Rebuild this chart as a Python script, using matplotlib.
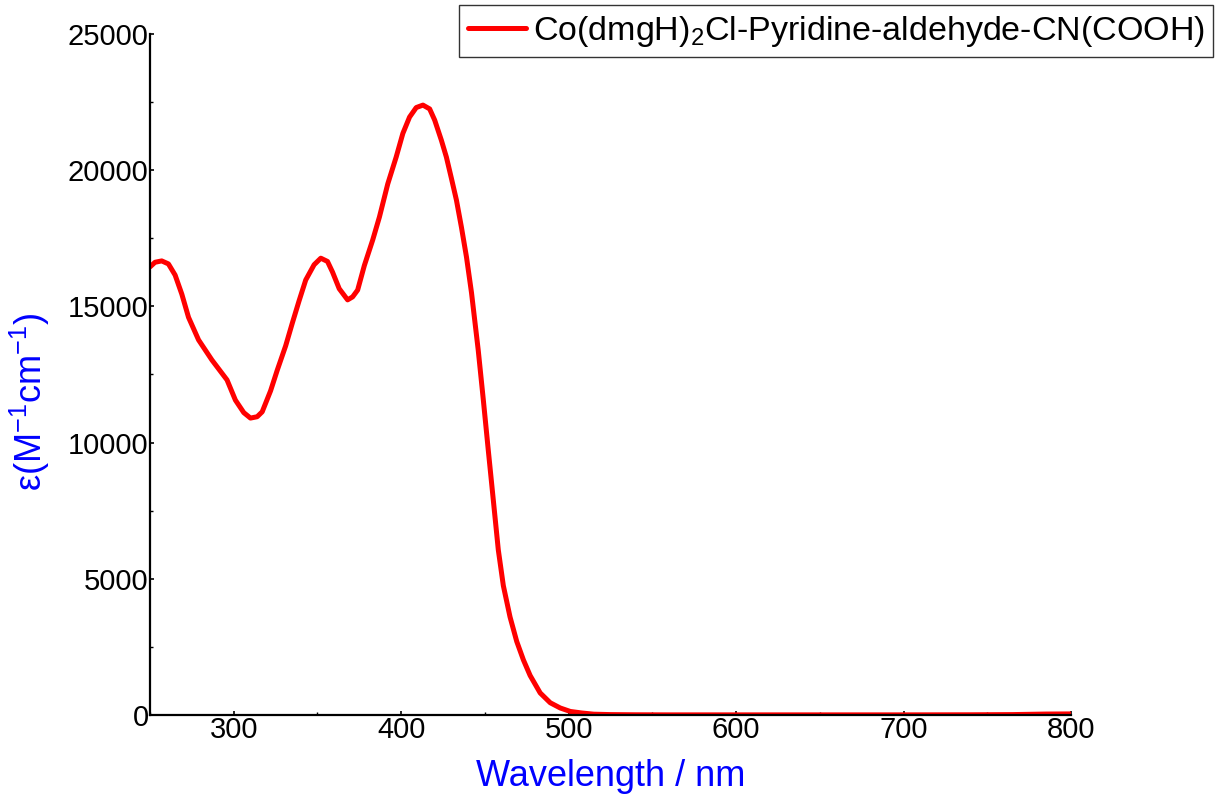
import matplotlib
matplotlib.use("Agg")
import matplotlib.pyplot as plt
from matplotlib.ticker import MultipleLocator

plt.rcParams['font.family'] = ['Liberation Sans', 'DejaVu Sans']
plt.rcParams['mathtext.fontset'] = 'custom'
plt.rcParams['mathtext.rm'] = 'Liberation Sans'
plt.rcParams['mathtext.it'] = 'Liberation Sans'
plt.rcParams['mathtext.default'] = 'regular'

# wavelength (nm) and molar absorptivity (M^-1 cm^-1)
wavelength = [250, 253, 257, 261, 265, 269, 273, 279, 287, 296, 301, 306, 310,
              314, 317, 322, 326, 331, 335, 339, 343, 348, 352, 356, 359, 363,
              368, 371, 374, 378, 383, 387, 392, 397, 401, 405, 409, 413, 417,
              420, 424, 427, 430, 433, 436, 439, 442, 446, 449, 452, 455, 458,
              461, 465, 469, 473, 477, 483, 489, 495, 501, 508, 515, 525, 540,
              560, 600, 650, 700, 740, 765, 775, 785, 800]
epsilon = [16450, 16620, 16670, 16560, 16150, 15450, 14600, 13770, 13030, 12300,
           11560, 11100, 10900, 10950, 11130, 11900, 12660, 13550, 14390, 15200,
           15970, 16530, 16770, 16650, 16260, 15650, 15240, 15350, 15600, 16500,
           17440, 18280, 19500, 20480, 21350, 21950, 22300, 22390, 22250, 21840,
           21100, 20480, 19700, 18900, 17900, 16810, 15500, 13400, 11600, 9730,
           7900, 6060, 4750, 3600, 2700, 2020, 1450, 810, 450, 257, 130, 73,
           30, 15, 8, 5, 5, 5, 5, 8, 15, 25, 35, 40]

legend_label = r'Co(dmgH)$_2$Cl-Pyridine-aldehyde-CN(COOH)'

fig = plt.figure(figsize=(12.27, 8.02), dpi=100)
ax = fig.add_axes([150 / 1227, 1 - 715 / 802, 921 / 1227, 681 / 802])

ax.plot(wavelength, epsilon, color='#ff0000', lw=3.6, label=legend_label,
        solid_joinstyle='round', solid_capstyle='round')

ax.set_xlim(250, 800)
ax.set_ylim(0, 25000)
ax.xaxis.set_major_locator(MultipleLocator(100))
ax.xaxis.set_minor_locator(MultipleLocator(50))
ax.yaxis.set_major_locator(MultipleLocator(5000))
ax.yaxis.set_minor_locator(MultipleLocator(2500))

for side in ['top', 'right']:
    ax.spines[side].set_visible(False)
for side in ['left', 'bottom']:
    ax.spines[side].set_linewidth(1.6)

ax.tick_params(which='major', direction='in', length=3, width=1.2,
               labelsize=21, pad=1)
ax.tick_params(which='minor', direction='in', length=2, width=1)

ax.set_xlabel('Wavelength / nm', fontsize=26, color='#0000ff')
ax.xaxis.set_label_coords(0.5, -0.09)
ax.xaxis.label.set_va('center')
ax.set_ylabel(r'ε(M$^{-1}$cm$^{-1}$)', fontsize=26, color='#0000ff')
ax.yaxis.set_label_coords(-0.13, 0.46)
ax.yaxis.label.set_va('center')

leg = fig.legend(loc='upper right', bbox_to_anchor=(1213 / 1227, 1 - 5 / 802),
                 fontsize=24.5, frameon=True, fancybox=False, borderaxespad=0,
                 handlelength=1.7, handletextpad=0.2, borderpad=0.25)
leg.get_frame().set_edgecolor('black')
leg.get_frame().set_linewidth(1.0)

fig.savefig('out.png', dpi=100)
